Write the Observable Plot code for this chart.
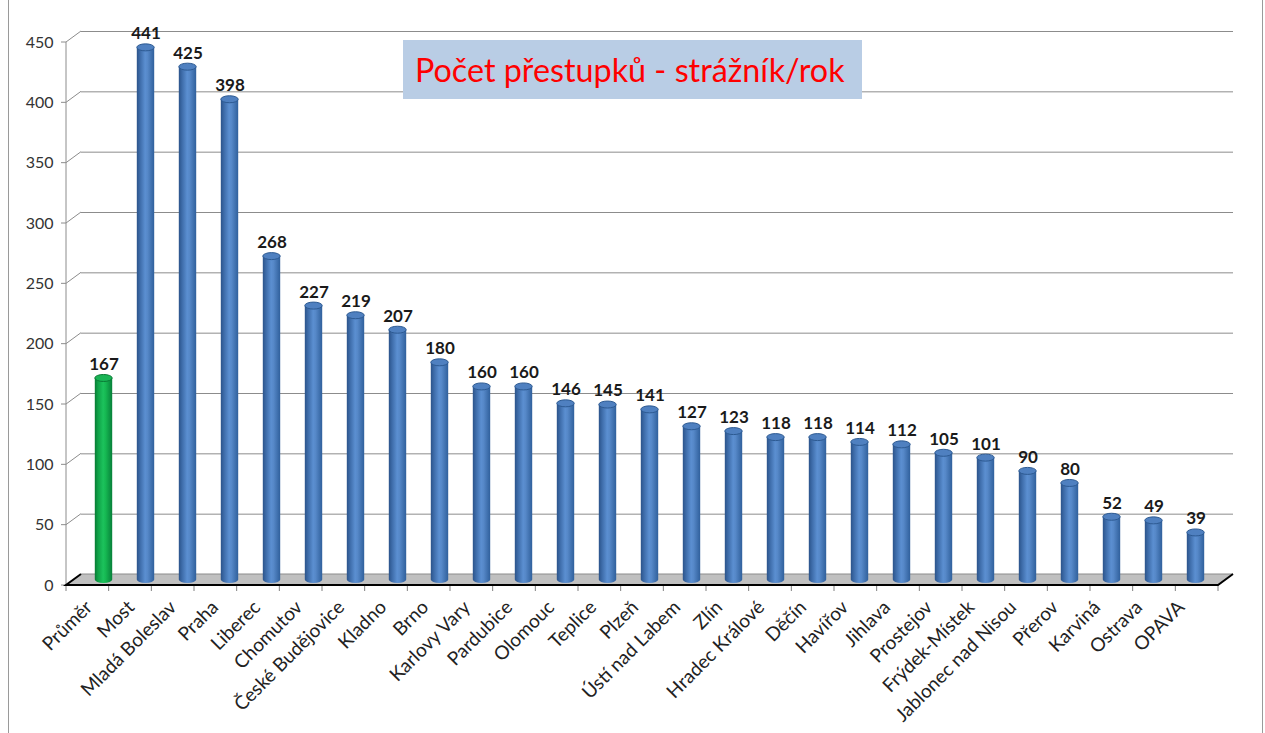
<!DOCTYPE html>
<html><head><meta charset="utf-8">
<script src="https://cdn.jsdelivr.net/npm/d3@7"></script>
<script src="https://cdn.jsdelivr.net/npm/@observablehq/plot@0.6"></script>
<style>
html,body{margin:0;padding:0;background:#fff;}
#wrap{position:relative;width:1265px;height:733px;overflow:hidden;background:#fff;font-family:Lato,"Open Sans",sans-serif;}
#wrap svg{position:absolute;left:0;top:0;}
.vline{position:absolute;top:0;width:1px;height:733px;background:#9a9a9a;}
#title{position:absolute;left:403px;top:40px;width:459px;height:59px;background:#b9cde5;color:#ff0000;font-size:32.3px;line-height:59px;padding-left:12px;box-sizing:border-box;white-space:nowrap;}
</style></head>
<body>
<div id="wrap">
  <div class="vline" style="left:8px"></div>
  <div class="vline" style="left:1262px"></div>
</div>
<script>
const categories = ["Průměr","Most","Mladá Boleslav","Praha","Liberec","Chomutov","České Budějovice","Kladno","Brno","Karlovy Vary","Pardubice","Olomouc","Teplice","Plzeň","Ústí nad Labem","Zlín","Hradec Králové","Děčín","Havířov","Jihlava","Prostejov","Frýdek-Místek","Jablonec nad Nisou","Přerov","Karviná","Ostrava","OPAVA"];
const values = [167,441,425,398,268,227,219,207,180,160,160,146,145,141,127,123,118,118,114,112,105,101,90,80,52,49,39];
const yTicks = [0,50,100,150,200,250,300,350,400,450];
const averageName = "Průměr";
const titleText = "Počet přestupků - strážník/rok";

const data = categories.map((c, i) => ({name: c, value: values[i]}));
const blue = data.filter(d => d.name !== averageName);
const green = data.filter(d => d.name === averageName);

const DX = 7.5, DY = -5.5;     // mid-depth offset of the cylinders
const BX = 15, BY = -11;       // back-wall offset
const INSET = 12.3;

function decor(index, scales, values, dims) {
  const {width, height, marginLeft, marginRight, marginBottom} = dims;
  const x0 = marginLeft, x1 = width - marginRight, yb = height - marginBottom;
  const n = categories.length, bw = (x1 - x0) / n;
  const y = scales.y;
  const g = d3.create("svg:g");
  g.append("path")
    .attr("d", `M${x0},${yb}L${x1},${yb}L${x1 + BX},${yb + BY}L${x0 + BX},${yb + BY}Z`)
    .attr("fill", "#c0c0c0");
  g.append("line").attr("x1", x0 + BX).attr("x2", x1 + BX).attr("y1", yb + BY).attr("y2", yb + BY)
    .attr("stroke", "#8c8c8c");
  g.append("line").attr("x1", x0).attr("x2", x0).attr("y1", y(yTicks[yTicks.length - 1])).attr("y2", yb)
    .attr("stroke", "#8c8c8c");
  for (const t of yTicks) {
    g.append("line").attr("x1", x0 - 5).attr("x2", x0).attr("y1", y(t)).attr("y2", y(t)).attr("stroke", "#8c8c8c");
    if (t > 0) g.append("line").attr("x1", x0).attr("x2", x0 + BX).attr("y1", y(t)).attr("y2", y(t) + BY).attr("stroke", "#8c8c8c");
  }
  for (let i = 0; i <= n; i++) {
    g.append("line").attr("x1", x0 + i * bw).attr("x2", x0 + i * bw).attr("y1", yb).attr("y2", yb + 6).attr("stroke", "#808080");
  }
  g.append("path")
    .attr("d", `M${x0 + BX},${yb + BY}L${x0},${yb}L${x1},${yb}L${x1 + BX},${yb + BY}`)
    .attr("fill", "none").attr("stroke", "#000").attr("stroke-width", 2).attr("stroke-linejoin", "miter");
  return g.node();
}

function cylinder(rows, grad, cap, rim) {
  return [
    Plot.barY(rows, {x: "name", y1: d => 0, y2: d => 0, insetLeft: INSET, insetRight: INSET, insetTop: -3.5, insetBottom: -3.5, rx: 9, ry: 3.5, fill: grad, dx: DX, dy: DY}),
    Plot.barY(rows, {x: "name", y1: d => 0, y2: "value", insetLeft: INSET, insetRight: INSET, fill: grad, dx: DX, dy: DY}),
    Plot.barY(rows, {x: "name", y1: "value", y2: "value", insetLeft: INSET, insetRight: INSET, insetTop: -3.5, insetBottom: -3.5, rx: 9, ry: 3.5, fill: cap, stroke: rim, strokeWidth: 1, dx: DX, dy: DY})
  ];
}

const chart = Plot.plot({
  width: 1265, height: 733,
  marginLeft: 66, marginRight: 47, marginTop: 42, marginBottom: 148,
  x: {domain: categories, padding: 0, axis: null},
  y: {domain: [0, 450], axis: null},
  style: {background: "transparent", fontFamily: "Lato, 'Open Sans', sans-serif"},
  marks: [
    decor,
    Plot.ruleY(yTicks.filter(t => t > 0), {dx: BX, dy: BY, stroke: "#8c8c8c", strokeWidth: 1}),
    ...cylinder(blue, "url(#gBlue)", "#4f80c0", "#2d5a92"),
    ...cylinder(green, "url(#gGreen)", "#19b455", "#0a7a35"),
    Plot.text(data, {x: "name", y: "value", text: d => String(d.value), dx: DX, dy: -19.5, fontWeight: "bold", fontSize: 17, fill: "#1a1a1a"}),
    Plot.text(yTicks, {y: d => d, text: d => String(d), frameAnchor: "left", dx: -13, textAnchor: "end", fontSize: 16, fill: "#333"}),
    Plot.text(categories, {x: d => d, text: d => d, frameAnchor: "bottom", rotate: -45, textAnchor: "end", dx: -3, dy: 23, fontSize: 19, fill: "#222"})
  ]
});

const defs = d3.select(chart).insert("defs", ":first-child");
const gb = defs.append("linearGradient").attr("id", "gBlue").attr("x1", 0).attr("x2", 1).attr("y1", 0).attr("y2", 0);
[["0%", "#2b538a"], ["18%", "#3d6ba8"], ["48%", "#5b8fd1"], ["62%", "#5688c8"], ["100%", "#30609c"]]
  .forEach(([o, c]) => gb.append("stop").attr("offset", o).attr("stop-color", c));
const gg = defs.append("linearGradient").attr("id", "gGreen").attr("x1", 0).attr("x2", 1).attr("y1", 0).attr("y2", 0);
[["0%", "#077a33"], ["18%", "#0fa147"], ["48%", "#1cc25c"], ["62%", "#16b852"], ["100%", "#07803a"]]
  .forEach(([o, c]) => gg.append("stop").attr("offset", o).attr("stop-color", c));

const wrap = document.getElementById("wrap");
wrap.appendChild(chart);
const t = document.createElement("div");
t.id = "title"; t.textContent = titleText;
wrap.appendChild(t);
</script>
</body></html>
